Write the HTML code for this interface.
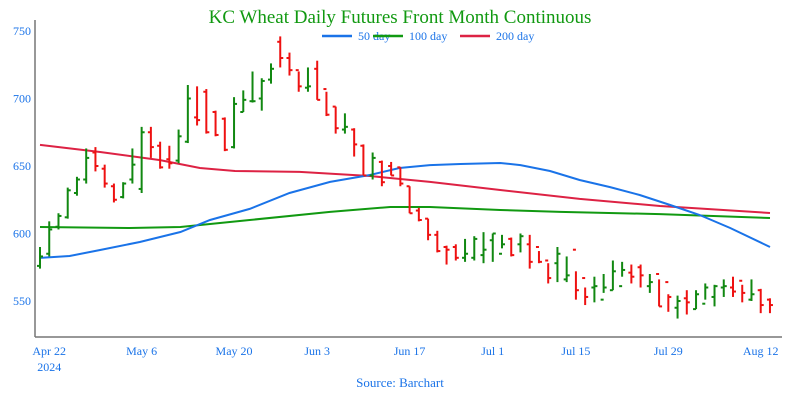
<!DOCTYPE html>
<html><head><meta charset="utf-8"><style>
body{margin:0;background:#fff;}
svg{display:block;font-family:"Liberation Serif",serif;}
</style></head><body>
<svg id="chart" width="800" height="400">
<text x="400" y="23" text-anchor="middle" font-size="19" fill="#119911">KC Wheat Daily Futures Front Month Continuous</text>
<g>
<g><line x1="322" y1="36" x2="352" y2="36" stroke="#1a73e8" stroke-width="2.5"/><text x="358" y="40" font-size="12" fill="#1a73e8">50 day</text></g>
<g><line x1="373" y1="36" x2="403" y2="36" stroke="#119911" stroke-width="2.5"/><text x="409" y="40" font-size="12" fill="#1a73e8">100 day</text></g>
<g><line x1="460" y1="36" x2="490" y2="36" stroke="#dd2244" stroke-width="2.5"/><text x="496" y="40" font-size="12" fill="#1a73e8">200 day</text></g>
</g>
<line x1="35" y1="20" x2="35" y2="337" stroke="#777" stroke-width="1.5"/>
<line x1="35" y1="337" x2="782" y2="337" stroke="#777" stroke-width="1.5"/>
<text x="400" y="387" text-anchor="middle" font-size="13" fill="#1a73e8">Source: Barchart</text>
<g id="yticks"></g><g id="xticks"></g><g id="mas"></g><g id="bars"></g>
</svg>
<script>
const opens=[576,585,605,612,630,640,660,648,635,627,640,633,675,665,655,654,668,686,705,690,685,664,690,698,700,714,742,730,721,708,722,707,694,677,677,665,643,653,650,649,635,617,611,599,590,590,582,582,584,595,585,596,592,592,590,580,578,566,588,567,560,551,558,561,571,575,561,570,564,545,552,544,548,553,560,560,565,551,558,551];
const highs=[590,609,615,634,642,663,664,651,637,638,663,679,679,668,665,677,710,709,707,691,686,701,706,720,715,726,746,734,720,723,728,705,694,689,678,666,660,654,653,649,635,619,611,602,591,592,596,598,601,600,599,597,600,599,587,578,590,583,572,560,568,570,580,579,577,577,570,566,555,554,558,558,563,562,566,568,562,566,559,552];
const lows=[574,583,603,611,628,637,646,634,623,626,637,630,656,648,648,652,667,680,674,672,661,663,690,697,691,711,723,717,705,705,699,687,674,674,657,643,640,635,643,635,615,609,595,586,577,580,579,580,578,579,589,583,586,574,578,563,564,564,551,547,549,556,558,568,563,560,556,546,542,537,540,544,551,546,553,553,549,550,541,541];
const closes=[583,603,613,632,640,656,650,637,625,637,651,675,664,649,652,672,700,684,675,673,662,696,699,698,713,722,730,721,709,709,699,688,678,679,666,643,656,638,643,637,615,610,599,587,588,582,585,596,588,600,592,584,598,579,579,567,585,569,558,553,561,560,572,573,568,569,564,546,553,550,549,555,560,561,561,557,556,555,547,547];
const yTicks=[550,600,650,700,750];
const xTickIdx=[1,11,21,30,40,49,58,68,78];
const xTickLabels=["Apr 22","May 6","May 20","Jun 3","Jun 17","Jul 1","Jul 15","Jul 29","Aug 12"];
const ma50Idx=[0,3.2,6.5,10.8,15.2,18.4,22.7,27,31.4,35.7,38.9,42.2,45.5,49.8,52,55.2,58.4,61.7,64.9,68.2,71.4,74.7,79];
const ma50Val=[581.9,583.3,587.8,593.7,601.1,610,618.2,630,638.2,643.3,648.5,650.7,651.5,652.2,650.7,646.3,639.6,634.4,628.5,621.1,613.7,604.1,590];
const ma100Idx=[0,9.7,15.2,22.7,31.4,37.9,42.2,49.8,56.3,67.1,79];
const ma100Val=[604.8,604.1,604.8,610,616,619.6,619.6,617.4,616,614.4,611.5];
const ma200Idx=[0,6.5,13,17.3,21.1,28.1,35.7,42.2,49.8,58.4,67.1,79];
const ma200Val=[665.6,660.4,654.4,648.5,646.3,645.6,642.6,638.2,632.2,625.6,620.4,615.2];
const NS="http://www.w3.org/2000/svg";
const xS=i=>40+i*9.24;
const yS=v=>31+(750-v)*67.5/50;
function mk(tag,attrs,parent){const e=document.createElementNS(NS,tag);for(const k in attrs)e.setAttribute(k,attrs[k]);parent.appendChild(e);return e;}
const yg=document.getElementById('yticks');
yTicks.forEach(v=>{const t=mk('text',{x:31,y:yS(v)+4,'text-anchor':'end','font-size':12,fill:'#1a73e8'},yg);t.textContent=v;

});
const xg=document.getElementById('xticks');
xTickIdx.forEach((ix,k)=>{const t=mk('text',{x:xS(ix),y:355,'text-anchor':'middle','font-size':12,fill:'#1a73e8'},xg);t.textContent=xTickLabels[k];

});
const yr=mk('text',{x:xS(xTickIdx[0]),y:371,'text-anchor':'middle','font-size':12,fill:'#1a73e8'},xg);yr.textContent='2024';


const mg=document.getElementById('mas');
function line(ix,vals,color,name){let d=ix.map((i,k)=>(k?'L':'M')+xS(i).toFixed(1)+','+yS(vals[k]).toFixed(1)).join(' ');
const p=mk('path',{d:d,fill:'none',stroke:color,'stroke-width':2},mg);

}
line(ma100Idx,ma100Val,'#119911','ma-100-day-line');
line(ma200Idx,ma200Val,'#dd2244','ma-200-day-line');
line(ma50Idx,ma50Val,'#1a73e8','ma-50-day-line');
const bg=document.getElementById('bars');
opens.forEach((o,i)=>{const c=closes[i];const col=c>=o?'#118811':'#ee1111';const x=xS(i);
const g=mk('g',{stroke:col,'stroke-width':2},bg);


mk('line',{x1:x,x2:x,y1:yS(highs[i]),y2:yS(lows[i])},g);
mk('line',{x1:x-3,x2:x,y1:yS(o),y2:yS(o)},g);
mk('line',{x1:x,x2:x+3,y1:yS(c),y2:yS(c)},g);});
</script>
</body></html>
